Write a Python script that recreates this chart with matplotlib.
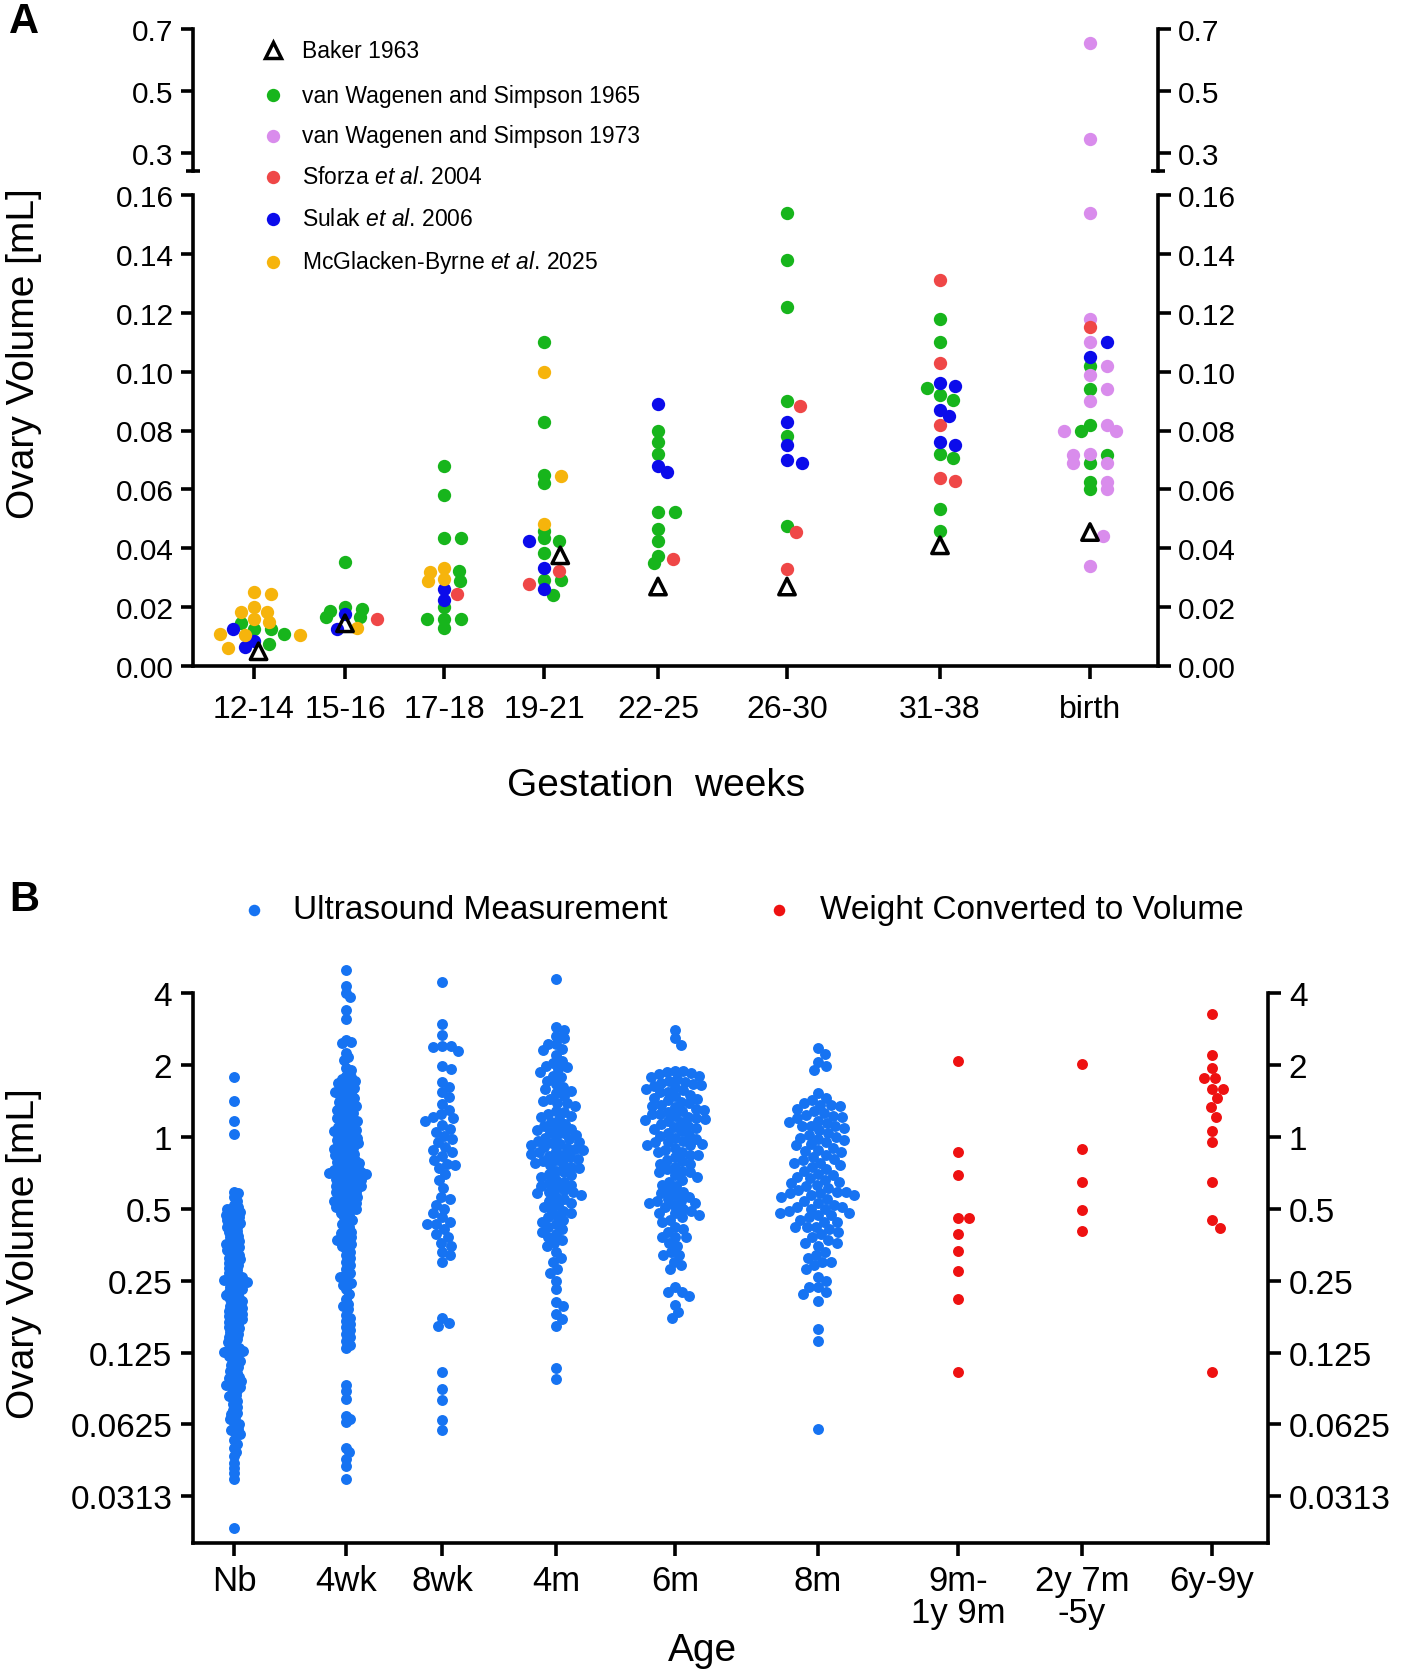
import numpy as np
import matplotlib
matplotlib.use('Agg')
import matplotlib.pyplot as plt
from matplotlib.lines import Line2D
from matplotlib.ticker import NullLocator

plt.rcParams['font.family'] = ['Liberation Sans', 'DejaVu Sans']
plt.rcParams['mathtext.fontset'] = 'custom'
plt.rcParams['mathtext.rm'] = 'Liberation Sans'
plt.rcParams['mathtext.it'] = 'Liberation Sans:italic'

# ---------------- Panel A data ----------------
A_cats = ['12-14', '15-16', '17-18', '19-21', '22-25', '26-30', '31-38', 'birth']
A_pos = [0, 0.91, 1.90, 2.90, 4.04, 5.33, 6.86, 8.36]

baker = [[0.005], [0.0145], [], [0.0376], [0.027], [0.027], [0.041], [0.0455]]
vws65 = [
    [0.0145, 0.0124, 0.0124, 0.0108, 0.0074],
    [0.0353, 0.0195, 0.0188, 0.0200, 0.0165, 0.0165],
    [0.068, 0.058, 0.0434, 0.0434, 0.0323, 0.029, 0.020, 0.016, 0.016, 0.016, 0.013],
    [0.110, 0.083, 0.065, 0.062, 0.046, 0.0423, 0.0434, 0.0383, 0.0292, 0.0292, 0.024],
    [0.080, 0.076, 0.072, 0.0524, 0.0524, 0.0464, 0.0423, 0.0373, 0.035],
    [0.154, 0.138, 0.122, 0.090, 0.078, 0.0474],
    [0.118, 0.110, 0.0945, 0.0904, 0.092, 0.072, 0.0705, 0.0535, 0.0457],
    [0.102, 0.094, 0.082, 0.080, 0.0716, 0.069, 0.0625, 0.060],
]
vws73 = [[], [], [], [], [], [], [],
         [0.655, 0.345, 0.154, 0.118, 0.110, 0.102, 0.099, 0.094, 0.090, 0.082, 0.080,
          0.080, 0.0716, 0.069, 0.069, 0.072, 0.060, 0.0625, 0.044, 0.034]]
sforza = [[], [0.016], [0.0245], [0.0323, 0.028], [0.0363], [0.0884, 0.0454, 0.033],
          [0.131, 0.103, 0.082, 0.064, 0.063], [0.115]]
sulak = [[0.0124, 0.0084, 0.0064], [0.0175, 0.0124], [0.026, 0.0225], [0.0423, 0.0333, 0.026],
         [0.089, 0.068, 0.066], [0.083, 0.075, 0.069, 0.070],
         [0.095, 0.096, 0.087, 0.085, 0.075, 0.076], [0.110, 0.105]]
mcg = [[0.025, 0.0245, 0.0185, 0.0185, 0.016, 0.020, 0.0148, 0.0108, 0.0104, 0.0104, 0.006],
       [0.0128], [0.0333, 0.032, 0.0297, 0.029], [0.100, 0.0645, 0.0484], [], [], [], []]

A_series_labels = ['Baker 1963', 'van Wagenen and Simpson 1965', 'van Wagenen and Simpson 1973',
                   r'Sforza $\mathit{et\ al}$. 2004', r'Sulak $\mathit{et\ al}$. 2006',
                   r'McGlacken-Byrne $\mathit{et\ al}$. 2025']

# ---------------- Panel B data ----------------
B_cats = ['Nb', '4wk', '8wk', '4m', '6m', '8m', '9m-\n1y 9m', '2y 7m\n-5y', '6y-9y']
B_pos = [0, 1.12, 2.08, 3.22, 4.41, 5.84, 7.24, 8.48, 9.78]

us_nb = [1.78, 1.41, 1.16, 1.03,
         0.59, 0.58, 0.56, 0.54, 0.52, 0.51, 0.50,
         0.497, 0.49, 0.486, 0.478, 0.47, 0.468, 0.46, 0.452, 0.447, 0.44, 0.436, 0.43, 0.421,
         0.418, 0.41, 0.402, 0.398, 0.39, 0.384, 0.379, 0.372, 0.366, 0.36, 0.357,
         0.351, 0.347, 0.34, 0.336, 0.331, 0.325, 0.321, 0.315, 0.31, 0.307, 0.30, 0.296, 0.292,
         0.286, 0.281, 0.278, 0.272, 0.268, 0.265, 0.26, 0.257, 0.254, 0.252, 0.251,
         0.248, 0.246, 0.241, 0.238, 0.236, 0.231, 0.227, 0.225, 0.221, 0.218, 0.214, 0.211,
         0.209, 0.205, 0.20, 0.198, 0.196, 0.192, 0.19, 0.187, 0.184, 0.182, 0.179, 0.178,
         0.175, 0.173, 0.17, 0.168, 0.165, 0.162, 0.16, 0.158, 0.155, 0.152, 0.15, 0.147,
         0.145, 0.142, 0.14, 0.138, 0.135, 0.133, 0.131, 0.129, 0.128, 0.127, 0.126, 0.125,
         0.123, 0.121, 0.119, 0.117, 0.115, 0.113, 0.111, 0.109, 0.107, 0.105, 0.103, 0.101,
         0.099, 0.098, 0.096, 0.095, 0.093, 0.092, 0.091, 0.09, 0.089,
         0.087, 0.085, 0.083, 0.082, 0.08, 0.078, 0.076, 0.074, 0.072, 0.07, 0.069, 0.067,
         0.066, 0.064, 0.063, 0.061, 0.06, 0.059, 0.058, 0.057,
         0.054, 0.052, 0.05, 0.048, 0.046, 0.043, 0.041, 0.039, 0.037, 0.023]
us_4wk = [4.97, 4.3, 4.0, 3.85, 3.4, 3.1, 2.55, 2.5, 2.48, 2.25, 2.15, 2.1, 1.95, 1.9,
          1.8, 1.78, 1.75, 1.72, 1.7, 1.68, 1.66, 1.63, 1.6, 1.58, 1.56, 1.54, 1.52, 1.5, 1.48,
          1.46, 1.44, 1.42, 1.4, 1.38, 1.36, 1.35, 1.33, 1.31, 1.29, 1.27, 1.26, 1.24, 1.22,
          1.2, 1.19, 1.17, 1.16, 1.14, 1.13, 1.11, 1.1, 1.08, 1.07, 1.06, 1.05, 1.04, 1.02,
          1.01, 1.0,
          0.99, 0.98, 0.97, 0.96, 0.95, 0.94, 0.93, 0.92, 0.91, 0.9, 0.89, 0.88, 0.87, 0.86,
          0.85, 0.84, 0.83, 0.82, 0.81, 0.8, 0.79, 0.785, 0.78, 0.77, 0.76, 0.75, 0.745, 0.74,
          0.73, 0.725, 0.72, 0.715, 0.71,
          0.705, 0.7, 0.69, 0.685, 0.68, 0.67, 0.665, 0.66, 0.65, 0.645, 0.64, 0.63, 0.625,
          0.62, 0.61, 0.605, 0.6, 0.59, 0.585, 0.58, 0.57, 0.565, 0.56, 0.55, 0.545, 0.54,
          0.535, 0.53, 0.52, 0.515, 0.51, 0.505, 0.5,
          0.49, 0.48, 0.47, 0.46, 0.45, 0.44, 0.43, 0.42, 0.41, 0.4, 0.395, 0.39, 0.38, 0.375,
          0.37, 0.36, 0.355, 0.35,
          0.34, 0.33, 0.32, 0.31, 0.3, 0.29, 0.28, 0.27, 0.265, 0.26, 0.25, 0.245, 0.24, 0.23,
          0.22, 0.21, 0.2, 0.195, 0.19, 0.18, 0.175, 0.17, 0.165, 0.16, 0.155, 0.15, 0.145,
          0.14, 0.135, 0.13,
          0.091, 0.086, 0.08, 0.068, 0.066, 0.064, 0.05, 0.048, 0.045, 0.042, 0.037]
us_8wk = [4.45, 2.97, 2.68, 2.4, 2.4, 2.38, 2.28, 1.97, 1.93, 1.69, 1.61, 1.54, 1.47, 1.37,
          1.3, 1.25, 1.21, 1.2, 1.16, 1.12, 1.08, 1.05, 1.01, 0.98, 0.95, 0.91, 0.88, 0.86,
          0.83, 0.8, 0.77, 0.76, 0.74, 0.7, 0.66, 0.61, 0.56, 0.55, 0.52, 0.5, 0.48, 0.46,
          0.44, 0.43, 0.43, 0.41, 0.39, 0.38, 0.36, 0.35, 0.33, 0.32, 0.30,
          0.175, 0.166, 0.162, 0.104, 0.088, 0.079, 0.065, 0.059]
us_4m = [4.57, 2.87, 2.81, 2.65, 2.59, 2.45, 2.45, 2.33, 2.30,
         2.19, 2.08, 2.04, 1.97, 1.96, 1.92, 1.87, 1.80, 1.78,
         1.71, 1.66, 1.61, 1.59, 1.56, 1.52, 1.48, 1.44, 1.41,
         1.39, 1.38, 1.35, 1.28, 1.27, 1.25, 1.22, 1.21, 1.19, 1.15, 1.13, 1.11, 1.09,
         1.08, 1.07, 1.05, 1.04, 1.02, 1.0, 0.99, 0.98, 0.96, 0.95, 0.94, 0.93, 0.92, 0.91,
         0.9, 0.89, 0.88, 0.87, 0.86, 0.85, 0.84, 0.83, 0.82, 0.81, 0.8,
         0.79, 0.78, 0.77, 0.76, 0.75, 0.74, 0.72, 0.71, 0.7, 0.69, 0.68, 0.66, 0.65, 0.64,
         0.63, 0.62, 0.61, 0.6, 0.59, 0.585,
         0.58, 0.57, 0.56, 0.55, 0.54, 0.53, 0.52, 0.51, 0.5, 0.49, 0.48, 0.47, 0.46, 0.45,
         0.44, 0.43,
         0.42, 0.41, 0.40, 0.39, 0.38, 0.37, 0.36, 0.35, 0.33, 0.31,
         0.30, 0.28, 0.27, 0.25, 0.23, 0.203, 0.196, 0.182, 0.173, 0.161, 0.108, 0.097]
us_6m = [2.81, 2.58, 2.43,
         1.89, 1.89, 1.87, 1.85, 1.83, 1.80, 1.78, 1.75, 1.72, 1.7, 1.68, 1.66, 1.65, 1.63,
         1.61, 1.59, 1.57, 1.54, 1.54, 1.5, 1.48, 1.46, 1.44, 1.42, 1.4, 1.38, 1.36, 1.35,
         1.33, 1.31, 1.3, 1.28, 1.27,
         1.25, 1.24, 1.22, 1.21, 1.2, 1.19, 1.18, 1.17, 1.15, 1.13, 1.11, 1.1, 1.09, 1.08,
         1.06, 1.04, 1.02, 1.01, 0.99, 0.98, 0.96, 0.95, 0.95, 0.93, 0.92, 0.92, 0.9, 0.88,
         0.86, 0.86, 0.84, 0.84, 0.82, 0.8, 0.79, 0.77, 0.77, 0.75, 0.73, 0.72, 0.71, 0.71,
         0.69, 0.68, 0.66, 0.65, 0.63, 0.62, 0.6, 0.59, 0.58, 0.57, 0.56, 0.55, 0.54, 0.54,
         0.53, 0.53, 0.52, 0.51, 0.5, 0.49, 0.48, 0.48, 0.47, 0.46, 0.45, 0.44,
         0.42, 0.41, 0.40, 0.38, 0.38, 0.38, 0.36, 0.35, 0.33, 0.32, 0.32, 0.3, 0.29, 0.28,
         0.235, 0.224, 0.224, 0.216, 0.198, 0.184, 0.174]
us_8m = [2.35, 2.22, 2.06, 1.97, 1.91, 1.52, 1.46, 1.42, 1.39, 1.36, 1.36, 1.35, 1.31,
         1.28, 1.26, 1.23, 1.22, 1.21, 1.20, 1.17, 1.15, 1.14, 1.11, 1.11, 1.11, 1.09, 1.07,
         1.04, 1.02, 1.0, 0.99, 0.98, 0.97, 0.95, 0.93, 0.92, 0.90, 0.88, 0.87, 0.86, 0.84,
         0.82, 0.81, 0.8, 0.78, 0.78, 0.76, 0.75, 0.73, 0.72, 0.70, 0.69, 0.68, 0.67, 0.66,
         0.65, 0.64, 0.63, 0.62, 0.61, 0.60, 0.59, 0.59, 0.58, 0.58, 0.57, 0.57, 0.56, 0.55,
         0.54, 0.53, 0.52, 0.51, 0.51, 0.50, 0.50, 0.49, 0.48, 0.48, 0.47, 0.47, 0.46, 0.45,
         0.44, 0.44, 0.42, 0.42, 0.42, 0.41, 0.4, 0.39, 0.38, 0.37, 0.36, 0.36, 0.35, 0.33,
         0.32, 0.31, 0.30, 0.30, 0.29, 0.28, 0.26, 0.25, 0.235, 0.235, 0.224, 0.22, 0.206,
         0.157, 0.140, 0.060]
us_groups = [us_nb, us_4wk, us_8wk, us_4m, us_6m, us_8m, [], [], []]

wt_9m = [2.08, 0.86, 0.69, 0.456, 0.456, 0.392, 0.333, 0.273, 0.209, 0.104]
wt_2y = [2.02, 0.888, 0.65, 0.493, 0.405]
wt_6y = [3.27, 2.21, 1.95, 1.76, 1.76, 1.59, 1.59, 1.45, 1.33, 1.21, 1.06, 0.947, 0.65,
         0.449, 0.417, 0.104]
wt_groups = [[], [], [], [], [], [], wt_9m, wt_2y, wt_6y]

B_yticks = [4, 2, 1, 0.5, 0.25, 0.125, 0.0625, 0.03125]
B_yticklabels = ['4', '2', '1', '0.5', '0.25', '0.125', '0.0625', '0.0313']

# ---------------- styling ----------------
W, H = 1410, 1681
DPI = 100
fig = plt.figure(figsize=(W / DPI, H / DPI), dpi=DPI)

def rect(x0, y0, x1, y1):
    return [x0 / W, 1 - y1 / H, (x1 - x0) / W, (y1 - y0) / H]

SPW = 2.6
C_GREEN = '#17B51C'
C_PINK = '#D98CEC'
C_RED = '#EF4747'
C_BLUE = '#0B0BEB'
C_YEL = '#F6B40C'
C_BB = '#1673F2'
C_BR = '#EE1111'


def swarm(ypix, d):
    ypix = np.asarray(ypix, float)
    n = len(ypix)
    xs = np.zeros(n)
    order = np.argsort(-ypix, kind='stable')
    px, py = [], []
    for i in order:
        y = ypix[i]
        ax_ = np.array(px)
        ay_ = np.array(py)
        if len(ax_):
            m = np.abs(ay_ - y) < d
            nx, ny = ax_[m], ay_[m]
        else:
            nx = ny = np.array([])
        cands = [0.0]
        for xj, yj in zip(nx, ny):
            dx = np.sqrt(max(d * d - (y - yj) ** 2, 0))
            cands += [xj - dx, xj + dx]
        cands = sorted(cands, key=lambda c: (round(abs(c), 6), -c))
        for c in cands:
            if len(nx) == 0 or np.all((nx - c) ** 2 + (ny - y) ** 2 >= d * d - 1e-6):
                xs[i] = c
                break
        px.append(xs[i])
        py.append(y)
    return xs

# ================= Panel A =================
axL = fig.add_axes(rect(193, 196, 1158, 667))
axU = fig.add_axes(rect(193, 30, 1158, 172))
A_xlim = (-0.61, 9.04)
for a in (axL, axU):
    a.set_xlim(*A_xlim)
    a.set_facecolor('none')
    for s in a.spines.values():
        s.set_linewidth(SPW)
    a.spines['top'].set_visible(False)
axL.set_ylim(0, 0.16)
axU.set_ylim(0.242, 0.7)
axU.spines['bottom'].set_visible(False)

axL.set_yticks(np.arange(0, 0.161, 0.02))
axL.set_yticklabels(['%.2f' % v for v in np.arange(0, 0.161, 0.02)])
axU.set_yticks([0.3, 0.5, 0.7])
axU.set_yticklabels(['0.3', '0.5', '0.7'])
for a in (axL, axU):
    a.tick_params(axis='y', which='both', left=True, right=True, labelleft=True,
                  labelright=True, length=9, width=SPW, labelsize=21.5, pad=5)
axU.tick_params(axis='x', bottom=False, labelbottom=False)
axL.set_xticks(A_pos)
axL.set_xticklabels(A_cats)
axL.tick_params(axis='x', length=9, width=SPW, labelsize=23, pad=11)

# break caps at bottom of upper spines
capw = 7 / (1158 - 193)
for xc in (0, 1):
    axU.add_line(Line2D([xc - capw, xc + capw], [0, 0], transform=axU.transAxes,
                        color='black', lw=SPW, clip_on=False, solid_capstyle='butt'))

A_series = [vws65, vws73, sforza, sulak, mcg, baker]
A_styles = [dict(marker='o', s=92, c=C_GREEN, linewidths=0),
            dict(marker='o', s=92, c=C_PINK, linewidths=0),
            dict(marker='o', s=92, c=C_RED, linewidths=0),
            dict(marker='o', s=92, c=C_BLUE, linewidths=0),
            dict(marker='o', s=92, c=C_YEL, linewidths=0),
            dict(marker='^', s=140, facecolors='none', edgecolors='black', linewidths=2.5)]

# elliptical spreading: horizontal separation SX, vertical separation SY (pixels)
SX, SY = 17.0, 7.0
ppx_A = (1158 - 193) / (A_xlim[1] - A_xlim[0])
pts = {k: ([], []) for k in range(len(A_series))}
for ci in range(len(A_cats)):
    vals, sids = [], []
    for si, ser in enumerate(A_series):
        for v in ser[ci]:
            vals.append(v)
            sids.append(si)
    if not vals:
        continue
    ypix = np.array([(axL if v <= 0.16 else axU).transData.transform((0, v))[1] for v in vals])
    offs = swarm(ypix * SX / SY, SX) / ppx_A
    for v, si, o in zip(vals, sids, offs):
        pts[si][0].append(A_pos[ci] + o)
        pts[si][1].append(v)

for si in range(len(A_series)):
    xs, ys = pts[si]
    for a in (axL, axU):
        a.scatter(xs, ys, zorder=3 + si, clip_on=True, **A_styles[si])

# Legend A (manual)
leg_y = [51, 96, 137, 178, 220, 263]
leg_handles = [dict(marker='^', ms=11.5, mfc='none', mec='black', mew=2.5),
               dict(marker='o', ms=9.6, mfc=C_GREEN, mec='none'),
               dict(marker='o', ms=9.6, mfc=C_PINK, mec='none'),
               dict(marker='o', ms=9.6, mfc=C_RED, mec='none'),
               dict(marker='o', ms=9.6, mfc=C_BLUE, mec='none'),
               dict(marker='o', ms=9.6, mfc=C_YEL, mec='none')]
for yy, lab, hs in zip(leg_y, A_series_labels, leg_handles):
    fig.add_artist(Line2D([273 / W], [1 - yy / H], transform=fig.transFigure, ls='none', **hs))
    fig.text(302 / W, 1 - yy / H, lab, fontsize=16.5, va='center', ha='left')

fig.text(24 / W, 1 - 354 / H, 'Ovary Volume [mL]', rotation=90, fontsize=28,
         ha='center', va='center')
fig.text(656 / W, 1 - 786 / H, 'Gestation  weeks', fontsize=28, ha='center', va='center')
fig.text(24 / W, 1 - 22 / H, 'A', fontsize=30, fontweight='bold', ha='center', va='center')

# ================= Panel B =================
axB = fig.add_axes(rect(193, 950, 1268, 1544))
B_xlim = (-0.41, 10.34)
axB.set_xlim(*B_xlim)
axB.set_yscale('log', base=2)
yb0 = 2 ** -5.649
axB.set_ylim(yb0, 2 ** 2.612)
axB.yaxis.set_minor_locator(NullLocator())
axB.set_yticks(B_yticks)
axB.set_yticklabels(B_yticklabels)
axB.set_facecolor('none')
for s in axB.spines.values():
    s.set_linewidth(SPW)
axB.spines['top'].set_visible(False)
axB.spines['left'].set_bounds(yb0, 4)
axB.spines['right'].set_bounds(yb0, 4)
axB.tick_params(axis='y', which='both', left=True, right=True, labelleft=True,
                labelright=True, length=9, width=SPW, labelsize=24, pad=6)
axB.set_xticks(B_pos)
axB.set_xticklabels(B_cats, linespacing=0.95)
axB.tick_params(axis='x', length=9, width=SPW, labelsize=25, pad=6)

ppx_B = (1268 - 193) / (B_xlim[1] - B_xlim[0])
us_d = [4.8, 5.3, 9.0, 8.0, 8.3, 9.0, 11, 11, 11]
for ci in range(len(B_cats)):
    for vals, col in ((us_groups[ci], C_BB), (wt_groups[ci], C_BR)):
        if not vals:
            continue
        ypix = [axB.transData.transform((0, v))[1] for v in vals]
        offs = swarm(ypix, us_d[ci]) / ppx_B
        axB.scatter(np.array(B_pos[ci]) + offs, vals, s=62, c=col, linewidths=0,
                    zorder=3, clip_on=False)

# Legend B
fig.add_artist(Line2D([254 / W], [1 - 911 / H], transform=fig.transFigure, ls='none',
                      marker='o', ms=8.3, mfc=C_BB, mec='none'))
fig.text(293 / W, 1 - 911 / H, 'Ultrasound Measurement', fontsize=24, va='center', ha='left')
fig.add_artist(Line2D([779 / W], [1 - 911 / H], transform=fig.transFigure, ls='none',
                      marker='o', ms=8.3, mfc=C_BR, mec='none'))
fig.text(820 / W, 1 - 911 / H, 'Weight Converted to Volume', fontsize=24, va='center',
         ha='left')

fig.text(24 / W, 1 - 1254 / H, 'Ovary Volume [mL]', rotation=90, fontsize=28,
         ha='center', va='center')
fig.text(702 / W, 1 - 1651 / H, 'Age', fontsize=28, ha='center', va='center')
fig.text(24 / W, 1 - 900 / H, 'B', fontsize=30, fontweight='bold', ha='center', va='center')

fig.savefig('out.png', dpi=DPI)
